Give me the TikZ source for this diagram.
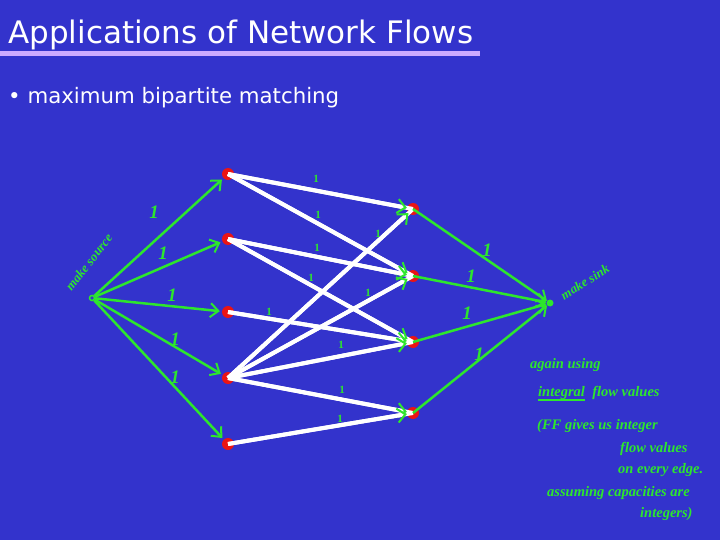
\documentclass[tikz,border=0pt]{standalone}
\usepackage{fontspec}
\setmainfont{DejaVu Sans}
\newfontfamily\handfont{Liberation Serif}
\usetikzlibrary{arrows.meta}
\definecolor{bg}{RGB}{51,51,204}
\definecolor{hand}{RGB}{45,230,45}
\definecolor{lav}{RGB}{204,170,255}
\definecolor{dotred}{RGB}{235,20,20}
\tikzset{
  vert/.style={circle, fill=dotred, inner sep=0pt, minimum size=12pt},
  wline/.style={white, line width=4pt},
  wtip/.style={white, line width=4pt, -{Straight Barb[length=8pt, width=14pt, line width=2pt, color=hand]}},
  gedge/.style={hand, line width=2.5pt, -{Straight Barb[length=8pt, width=14pt, line width=2pt]}},
  small1/.style={text=hand, font=\handfont\bfseries\fontsize{11}{11}\selectfont, inner sep=0pt},
  big1/.style={text=hand, font=\handfont\itshape\bfseries\fontsize{19}{19}\selectfont, inner sep=0pt},
  note/.style={text=hand, font=\handfont\itshape\bfseries\fontsize{14.5}{15}\selectfont, inner sep=0pt, anchor=base west},
  rothand/.style={text=hand, font=\handfont\itshape\bfseries\fontsize{13}{13}\selectfont, inner sep=0pt},
}
\begin{document}
\begin{tikzpicture}[x=1pt, y=-1pt]
\fill[bg] (0,0) rectangle (720,540);
\useasboundingbox (0,0) rectangle (720,540);

% title
\node[anchor=base west, white, font=\fontsize{31}{34}\selectfont, inner sep=0pt] (title) at (8,44) {Applications of Network Flows};
\draw[lav, line width=5pt] (0,54) -- (480,54);
\node[anchor=base west, white, font=\fontsize{21.3}{24}\selectfont, inner sep=0pt] (bullet) at (8,104) {\textbullet\ maximum bipartite matching};

% vertices
\node[vert] (l1) at (228,174) {};
\node[vert] (l2) at (228,239) {};
\node[vert] (l3) at (228,312) {};
\node[vert] (l4) at (228,378) {};
\node[vert] (l5) at (228,444) {};
\node[vert] (r1) at (413,209) {};
\node[vert] (r2) at (413,276) {};
\node[vert] (r3) at (413,342) {};
\node[vert] (r4) at (413,413) {};
\node[circle, draw=hand, line width=1.5pt, inner sep=0pt, minimum size=5pt] (s) at (92,298) {};
\node[circle, fill=hand, inner sep=0pt, minimum size=7pt] (t) at (550,303) {};

% white bipartite edges
\foreach \a/\b in {l1/r1, l1/r2, l2/r2, l2/r3, l3/r3, l4/r1, l4/r2, l4/r3, l4/r4, l5/r4} {
  \draw[wline] (\a.center) -- (\b.center);
}
\foreach \a/\b in {l1/r1, l1/r2, l2/r2, l2/r3, l3/r3, l4/r1, l4/r2, l4/r3, l4/r4, l5/r4} {
  \draw[wtip] (\a.center) -- (\b);
}

% green edges
\foreach \b in {l1, l2, l3, l4, l5} {
  \draw[gedge, shorten >=2pt] (s) -- (\b);
}
\foreach \a in {r1, r2, r3, r4} {
  \draw[gedge] (\a.center) -- (t);
}

% labels on white edges
\node[small1] (w1) at (316,179) {1};
\node[small1] (w2) at (318,215) {1};
\node[small1] (w3) at (317,248) {1};
\node[small1] (w4) at (311,278) {1};
\node[small1] (w5) at (378,234) {1};
\node[small1] (w6) at (368,293) {1};
\node[small1] (w7) at (269,312) {1};
\node[small1] (w8) at (341,345) {1};
\node[small1] (w9) at (342,390) {1};
\node[small1] (w10) at (340,419) {1};

% labels on source edges
\node[big1] (g1) at (154,212) {1};
\node[big1] (g2) at (163,253) {1};
\node[big1] (g3) at (172,295) {1};
\node[big1] (g4) at (175,339) {1};
\node[big1] (g5) at (175,377) {1};
% labels on sink edges
\node[big1] (h1) at (487,250) {1};
\node[big1] (h2) at (471,276) {1};
\node[big1] (h3) at (467,313) {1};
\node[big1] (h4) at (479,354) {1};

% handwritten annotations
\node[rothand, rotate=52] (src) at (89,262) {make source};
\node[rothand, rotate=32] (snk) at (585,282) {make sink};

\node[note] (n1) at (530,368) {again using};
\node[note] (n2a) at (538,396) {integral};
\node[note, anchor=base west] (n2b) at ([xshift=7pt]n2a.base east) {flow values};
\draw[hand, line width=1.5pt] ([yshift=-4pt]n2a.base west) -- ([yshift=-4pt]n2a.base east);
\node[note] (n3) at (537,429) {(FF gives us integer};
\node[note] (n4) at (620,452) {flow values};
\node[note] (n5) at (618,473) {on every edge.};
\node[note] (n6) at (547,496) {assuming capacities are};
\node[note] (n7) at (640,517) {integers)};
\end{tikzpicture}
\end{document}
